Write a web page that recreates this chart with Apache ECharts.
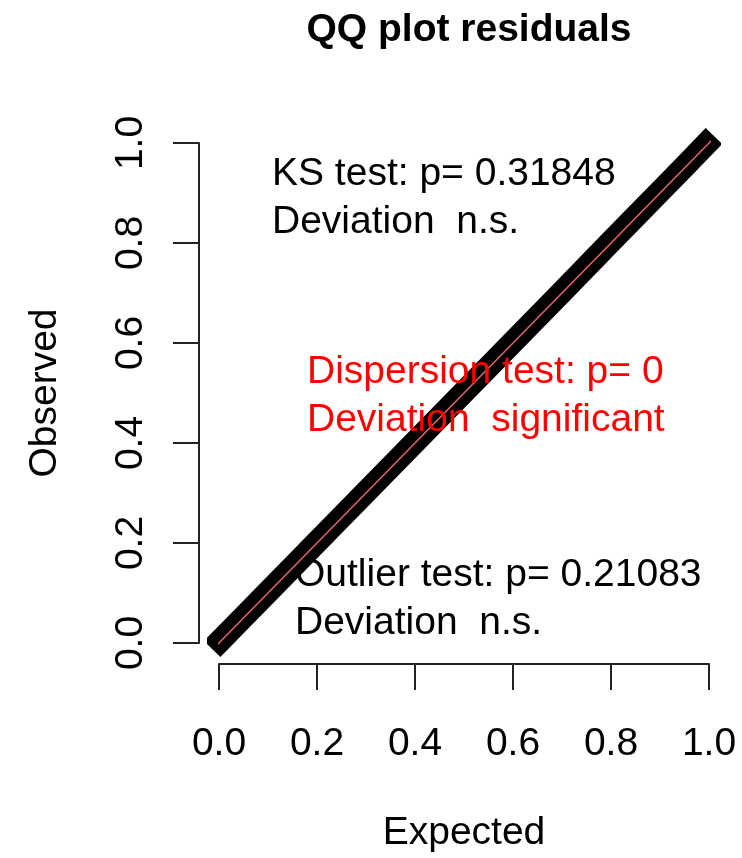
<!DOCTYPE html>
<html><head><meta charset="utf-8">
<script src="https://cdn.jsdelivr.net/npm/echarts@6/dist/echarts.min.js"></script>
<style>html,body{margin:0;padding:0;background:#fff}#c{width:742px;height:858px}</style>
</head><body><div id="c"></div>
<script>
// ---- data ----
const titleText = 'QQ plot residuals';
const xName = 'Expected';
const yName = 'Observed';
const tickValues = [0.0, 0.2, 0.4, 0.6, 0.8, 1.0];
// centre line of the dense band of QQ points
const expected = [-0.014, 0.05, 0.1, 0.2, 0.3, 0.4, 0.5, 0.6, 0.7, 0.8, 0.9, 0.95, 1.010];
const observed = [-0.012, 0.052, 0.102, 0.202, 0.302, 0.402, 0.502, 0.602, 0.702, 0.803, 0.903, 0.953, 1.014];
// 1:1 reference line across the plot region
const refX = [-0.04, 1.04];
const refY = [-0.04, 1.04];
const ksLines = ['KS test: p= 0.31848', 'Deviation  n.s.'];
const dispLines = ['Dispersion test: p= 0', 'Deviation  significant'];
const outLines = ['Outlier test: p= 0.21083', 'Deviation  n.s.'];

const FF = '"Liberation Sans", Arial, sans-serif';
const FS = 39;

const chart = echarts.init(document.getElementById('c'), null, {renderer: 'canvas'});

function legendText(lines, x, y0, color) {
  return lines.map((t, i) => ({
    type: 'text', x: x, y: y0 + i * 48, z: 100,
    style: {text: t, fill: color, font: FS + 'px ' + FF, verticalAlign: 'middle', align: 'left'}
  }));
}

const axisCommon = {
  type: 'value', min: 0, max: 1, interval: 0.2,
  splitLine: {show: false},
  axisLine: {show: true, onZero: false, lineStyle: {color: '#222', width: 2}},
  axisTick: {show: true, length: 26, inside: false, lineStyle: {color: '#222', width: 2}},
  nameTextStyle: {fontFamily: FF, fontSize: FS, color: '#000'},
};

chart.setOption({
  animation: false,
  backgroundColor: '#fff',
  title: {
    text: titleText, left: 464, top: 6, textAlign: 'center',
    textStyle: {fontFamily: FF, fontSize: FS, fontWeight: 'bold', color: '#000'}
  },
  grid: {left: 219, right: 33, top: 143, bottom: 212, containLabel: false},
  xAxis: Object.assign({}, axisCommon, {
    position: 'bottom', offset: 21,
    name: xName, nameLocation: 'middle', nameGap: 150,
    axisLabel: {margin: 61, fontFamily: FF, fontSize: FS, color: '#000',
      formatter: v => v.toFixed(1), showMinLabel: true, showMaxLabel: true}
  }),
  yAxis: Object.assign({}, axisCommon, {
    position: 'left', offset: 20,
    name: yName, nameLocation: 'middle', nameGap: 134, nameRotate: 90,
    axisLabel: {margin: 48, rotate: 90, fontFamily: FF, fontSize: FS, color: '#000',
      formatter: v => v.toFixed(1), showMinLabel: true, showMaxLabel: true}
  }),
  series: [
    {
      name: 'residuals', type: 'line', clip: false, z: 2,
      symbol: 'none', smooth: false,
      data: expected.map((x, i) => [x, observed[i]]),
      lineStyle: {color: '#000', width: 23, cap: 'butt', join: 'round'}
    },
    {
      name: '1:1', type: 'line', clip: false, z: 3,
      symbol: 'none',
      data: refX.map((x, i) => [x, refY[i]]),
      lineStyle: {color: '#f06a6a', width: 1.5}
    }
  ],
  graphic: [].concat(
    legendText(ksLines, 272, 174, '#000'),
    legendText(dispLines, 307, 372, '#ff0000'),
    legendText(outLines, 295, 575, '#000')
  )
});
</script>
</body></html>
